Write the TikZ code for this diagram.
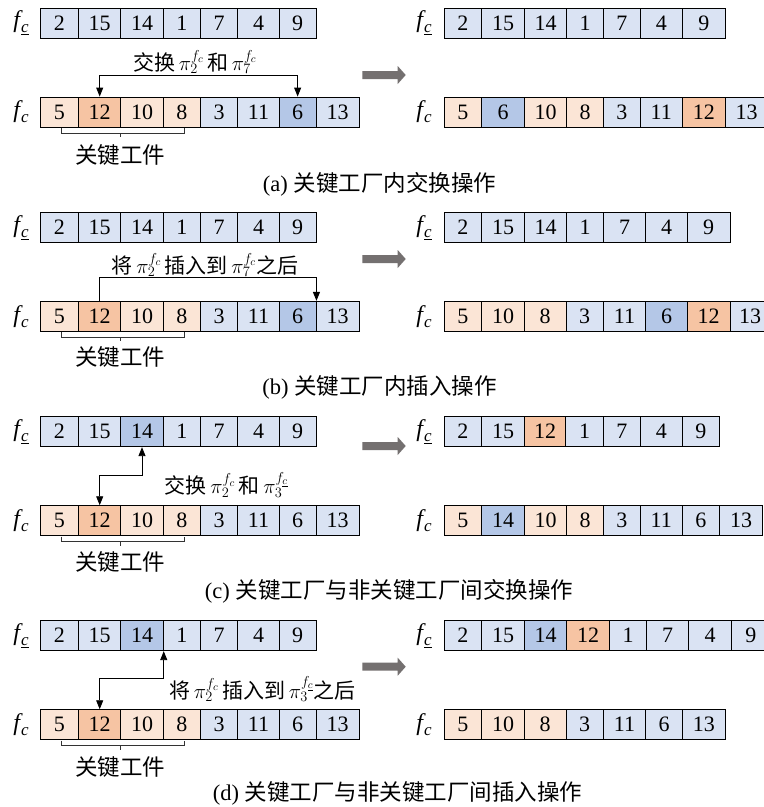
\documentclass[tikz,border=0pt]{standalone}
\usepackage{fontspec}
\setmainfont{Liberation Serif}
\newfontfamily\cjk{Noto Sans CJK SC}
\usetikzlibrary{arrows.meta}
\definecolor{lb}{HTML}{DAE3F3}
\definecolor{db}{HTML}{B4C7E7}
\definecolor{lo}{HTML}{FBE5D6}
\definecolor{do}{HTML}{F6C4A3}
\definecolor{garr}{HTML}{747070}
\newcommand{\fsub}[1]{\textit{f}\kern-1.5pt\raisebox{-5pt}{\fontsize{17}{17}\selectfont\textit{#1}}}
\newcommand{\fcu}{\fsub{\underline{c}}}
\newcommand{\fcl}{\fsub{c}}
\newcommand{\cellrow}[3]{%
  \foreach \xa/\xb/\t/\c [count=\i] in {#3}{%
    \node[cellbox, fill=\c, minimum width={(\xb-\xa)*1pt}] (#1-\i) at ({(\xa+\xb)/2},{#2+15}) {\t};
  }%
}
\newcommand{\grayarrow}[1]{\fill[garr] (362.3,{#1-4}) -- (397.7,{#1-4}) -- (397.7,{#1-9}) -- (405.7,#1) -- (397.7,{#1+9}) -- (397.7,{#1+4}) -- (362.3,{#1+4}) -- cycle;}
\newcommand{\keybracket}[1]{\draw[brk] (61.7,{#1+1}) -- (61.7,{#1+6}) -- (184.7,{#1+6}) -- (184.7,{#1+1}) (120.7,{#1+6}) -- (120.7,{#1+10});}
\tikzset{
  cellbox/.style={draw=black, line width=0.9pt, minimum height=30pt, inner sep=0pt,
    font=\fontsize{22}{22}\selectfont, text height=14.5pt, text depth=0pt},
  lab/.style={inner sep=0pt, font=\fontsize{24}{24}\selectfont},
  ann/.style={inner sep=0pt, font=\fontsize{21}{24}\selectfont},
  captext/.style={inner sep=0pt, font=\fontsize{22.5}{26}\selectfont},
  brk/.style={draw=black!80, line width=0.8pt},
  conn/.style={draw=black, line width=0.9pt},
  tip/.tip={Triangle[length=9pt,width=7pt]}
}
\begin{document}
\begin{tikzpicture}[x=1pt,y=-1pt]
\clip (0,0) rectangle (764,807);
\fill[white] (0,0) rectangle (764,807);

% ---------------- (a)
\cellrow{at}{8}{40/78.7/2/lb, 78.7/120.7/15/lb, 120.7/163.3/14/lb, 163.3/200.3/1/lb, 200.3/237.7/7/lb, 237.7/279.3/4/lb, 279.3/316/9/lb}
\cellrow{ab}{97}{40/78.7/5/lo, 78.7/120.7/12/do, 120.7/163.3/10/lo, 163.3/200.3/8/lo, 200.3/237.7/3/lb, 237.7/279.3/11/lb, 279.3/316/6/db, 316/359.3/13/lb}
\cellrow{art}{8}{444/481.7/2/lb, 481.7/524.3/15/lb, 524.3/566.7/14/lb, 566.7/603.3/1/lb, 603.3/640.3/7/lb, 640.3/682.3/4/lb, 682.3/725.3/9/lb}
\cellrow{arb}{97}{444/481.7/5/lo, 481.7/524.3/6/db, 524.3/566.7/10/lo, 566.7/603.3/8/lo, 603.3/640.3/3/lb, 640.3/682.3/11/lb, 682.3/725.3/12/do, 725.3/768/13/lb}
\node[lab] (la1) at (21,23) {\fcu};
\node[lab] (la2) at (21,112) {\fcl};
\node[lab] (la3) at (424,23) {\fcu};
\node[lab] (la4) at (424,112) {\fcl};
\draw[conn, tip-tip] (ab-2.north) -- ++(0,-21) -| (ab-7.north);
\node[ann] (ta) at (195,62) {{\cjk 交换}\,$\pi_2^{f_c}$\,{\cjk 和}\,$\pi_7^{f_c}$};
\grayarrow{75}
\keybracket{127}
\node[captext] (ka) at (120,155) {\cjk 关键工件};
\node[captext] (ca) at (379.5,184) {(a)\ {\cjk 关键工厂内交换操作}};

% ---------------- (b)
\cellrow{bt}{212.7}{40/78.7/2/lb, 78.7/120.7/15/lb, 120.7/163.3/14/lb, 163.3/200.3/1/lb, 200.3/237.7/7/lb, 237.7/279.3/4/lb, 279.3/316/9/lb}
\cellrow{bb}{301.3}{40/78.7/5/lo, 78.7/120.7/12/do, 120.7/163.3/10/lo, 163.3/200.3/8/lo, 200.3/237.7/3/lb, 237.7/279.3/11/lb, 279.3/316/6/db, 316/359.3/13/lb}
\cellrow{brt}{212.7}{444/481.7/2/lb, 481.7/524.3/15/lb, 524.3/566.7/14/lb, 566.7/603.3/1/lb, 603.3/645.7/7/lb, 645.7/687.3/4/lb, 687.3/730/9/lb}
\cellrow{brb}{301.3}{444/481.7/5/lo, 481.7/524.3/10/lo, 524.3/566/8/lo, 566/603.3/3/lb, 603.3/645.7/11/lb, 645.7/687.3/6/db, 687.3/730/12/do, 730/770/13/lb}
\node[lab] (lb1) at (21,227.7) {\fcu};
\node[lab] (lb2) at (21,316.3) {\fcl};
\node[lab] (lb3) at (424,227.7) {\fcu};
\node[lab] (lb4) at (424,316.3) {\fcl};
\draw[conn, -tip] (bb-2.north) -- ++(0,-23) -| (bb-7.north east);
\node[ann] (tb) at (205,265) {{\cjk 将}\,$\pi_2^{f_c}$\,{\cjk 插入到}\,$\pi_7^{f_c}${\cjk 之后}};
\grayarrow{259}
\keybracket{331.3}
\node[captext] (kb) at (120,357) {\cjk 关键工件};
\node[captext] (cb) at (379.5,387) {(b)\ {\cjk 关键工厂内插入操作}};

% ---------------- (c)
\cellrow{ct}{416.7}{40/78.7/2/lb, 78.7/120.7/15/lb, 120.7/163.3/14/db, 163.3/200.3/1/lb, 200.3/237.7/7/lb, 237.7/279.3/4/lb, 279.3/316/9/lb}
\cellrow{cb}{505.7}{40/78.7/5/lo, 78.7/120.7/12/do, 120.7/163.3/10/lo, 163.3/200.3/8/lo, 200.3/237.7/3/lb, 237.7/279.3/11/lb, 279.3/316/6/lb, 316/359.3/13/lb}
\cellrow{crt}{416.7}{444/481.7/2/lb, 481.7/524.3/15/lb, 524.3/565.7/12/do, 565.7/603.3/1/lb, 603.3/640.3/7/lb, 640.3/682.3/4/lb, 682.3/719.3/9/lb}
\cellrow{crb}{505.7}{444/481.7/5/lo, 481.7/524.3/14/db, 524.3/566.7/10/lo, 566.7/603.3/8/lo, 603.3/640.3/3/lb, 640.3/682.3/11/lb, 682.3/719.3/6/lb, 719.3/762.7/13/lb}
\node[lab] (lc1) at (21,431.7) {\fcu};
\node[lab] (lc2) at (21,520.7) {\fcl};
\node[lab] (lc3) at (424,431.7) {\fcu};
\node[lab] (lc4) at (424,520.7) {\fcl};
\draw[conn, tip-tip] (cb-2.north) -- ++(0,-29.7) -| (ct-3.south);
\node[ann] (tc) at (226.5,485) {{\cjk 交换}\,$\pi_2^{f_c}$\,{\cjk 和}\,$\pi_3^{f_{\underline{c}}}$};
\grayarrow{446}
\keybracket{535.7}
\node[captext] (kc) at (120,561.7) {\cjk 关键工件};
\node[captext] (cc) at (389,591.7) {(c)\ {\cjk 关键工厂与非关键工厂间交换操作}};

% ---------------- (d)
\cellrow{dt}{620.7}{40/78.7/2/lb, 78.7/120.7/15/lb, 120.7/163.3/14/db, 163.3/200.3/1/lb, 200.3/237.7/7/lb, 237.7/279.3/4/lb, 279.3/316/9/lb}
\cellrow{db}{709.7}{40/78.7/5/lo, 78.7/120.7/12/do, 120.7/163.3/10/lo, 163.3/200.3/8/lo, 200.3/237.7/3/lb, 237.7/279.3/11/lb, 279.3/316/6/lb, 316/359.3/13/lb}
\cellrow{drt}{620.7}{444/481.7/2/lb, 481.7/524.3/15/lb, 524.3/566.7/14/db, 566.7/609.3/12/do, 609.3/646.7/1/lb, 646.7/688.3/7/lb, 688.3/731.7/4/lb, 731.7/770/9/lb}
\cellrow{drb}{709.7}{444/481.7/5/lo, 481.7/524.3/10/lo, 524.3/566/8/lo, 566/603.3/3/lb, 603.3/645.7/11/lb, 645.7/682.3/6/lb, 682.3/725.3/13/lb}
\node[lab] (ld1) at (21,635.7) {\fcu};
\node[lab] (ld2) at (21,724.7) {\fcl};
\node[lab] (ld3) at (424,635.7) {\fcu};
\node[lab] (ld4) at (424,724.7) {\fcl};
\draw[conn, tip-tip] (db-2.north) -- ++(0,-30.7) -| (dt-3.south east);
\node[ann] (td) at (262.5,689.3) {{\cjk 将}\,$\pi_2^{f_c}$\,{\cjk 插入到}\,$\pi_3^{f_{\underline{c}}}${\cjk 之后}};
\grayarrow{666.7}
\keybracket{739.7}
\node[captext] (kd) at (120,766.7) {\cjk 关键工件};
\node[captext] (cd) at (397.5,793) {(d)\ {\cjk 关键工厂与非关键工厂间插入操作}};
\end{tikzpicture}
\end{document}
